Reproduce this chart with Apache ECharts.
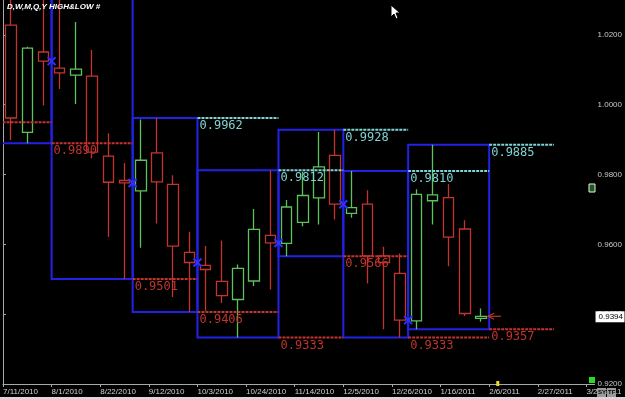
<!DOCTYPE html>
<html>
<head>
<meta charset="utf-8">
<title>D,W,M,Q,Y HIGH&amp;LOW</title>
<script src="https://cdn.jsdelivr.net/npm/echarts@6/dist/echarts.min.js"></script>
<style>
html, body { margin: 0; padding: 0; background: #000; }
#main { width: 625px; height: 399px; }
</style>
</head>
<body>
<div id="main"></div>
<script>
//周线数据, x = 从 7/11/2010 起的周序号
var opens  = [1.0228, 0.9921, 1.0151, 1.0105, 1.0085, 1.0082, 0.9853, 0.9783, 0.9753, 0.9862,
              0.9772, 0.9577, 0.9540, 0.9494, 0.9442, 0.9495, 0.9626, 0.9603, 0.9663, 0.9733,
              0.9855, 0.9689, 0.9715, 0.9567, 0.9517, 0.9381, 0.9725, 0.9734, 0.9644, 0.9388];
var closes = [0.9962, 1.0162, 1.0125, 1.0091, 1.0102, 0.9864, 0.9778, 0.9776, 0.9841, 0.9779,
              0.9595, 0.9548, 0.9528, 0.9453, 0.9531, 0.9643, 0.9604, 0.9707, 0.9740, 0.9822,
              0.9715, 0.9705, 0.9567, 0.9548, 0.9383, 0.9743, 0.9742, 0.9621, 0.9402, 0.9394];
var lows   = [0.9899, 0.9890, 0.9998, 1.0045, 1.0002, 0.9847, 0.9621, 0.9501, 0.9590, 0.9660,
              0.9449, 0.9406, 0.9409, 0.9432, 0.9333, 0.9481, 0.9471, 0.9566, 0.9652, 0.9657,
              0.9671, 0.9676, 0.9488, 0.9357, 0.9333, 0.9357, 0.9657, 0.9537, 0.9395, 0.9378];
var highs  = [1.0370, 1.0166, 1.0330, 1.0410, 1.0237, 1.0157, 0.9918, 0.9833, 0.9958, 0.9962,
              0.9798, 0.9636, 0.9595, 0.9610, 0.9542, 0.9701, 0.9812, 0.9727, 0.9808, 0.9922,
              0.9928, 0.9810, 0.9755, 0.9593, 0.9574, 0.9758, 0.9885, 0.9773, 0.9669, 0.9416];

//x轴标签, 每3周一个
var tickLabels = ['7/11/2010', '8/1/2010', '8/22/2010', '9/12/2010', '10/3/2010', '10/24/2010',
                  '11/14/2010', '12/5/2010', '12/26/2010', '1/16/2011', '2/6/2011', '2/27/2011', '3/20/2011'];

//月份: 起止周, 月高, 月低 (Jun..Feb)
var monthNames = ['Jun', 'Jul', 'Aug', 'Sep', 'Oct', 'Nov', 'Dec', 'Jan', 'Feb'];
var monthStart = [-6, -2, 3, 8, 12, 17, 21, 25, 30];
var monthEnd   = [-2, 3, 8, 12, 17, 21, 25, 30, 34];
var monthHigh  = [null, 1.0370, 1.0410, 0.9962, 0.9812, 0.9928, 0.9810, 0.9885, null];
var monthLow   = [0.9950, 0.9890, 0.9501, 0.9406, 0.9333, 0.9566, 0.9333, 0.9357, null];

var BLUE = '#2222e6';
var CYAN = '#7fd3d3';
var RED = '#c2342c';
var GREEN = '#5cc25c';

var chart = echarts.init(document.getElementById('main'));
var last = closes.length - 1;

//K线
var candleData = [];
for (var i = 0; i < closes.length; i++) {
    candleData.push([i + 0.5, opens[i], closes[i], lows[i], highs[i]]);
}

//月框
var boxData = [];
for (var m = 0; m < monthNames.length; m++) {
    if (monthHigh[m] != null && monthLow[m] != null) {
        boxData.push([monthStart[m], monthEnd[m], monthLow[m], monthHigh[m]]);
    }
}

//上月高低线 (青色=高, 红色=低)
var lineData = [];
var lineKind = [];
for (var m = 1; m < monthNames.length; m++) {
    if (monthHigh[m - 1] != null) {
        lineData.push([monthStart[m], monthEnd[m], monthHigh[m - 1]]);
        lineKind.push('high');
    }
    if (monthLow[m - 1] != null) {
        lineData.push([monthStart[m], monthEnd[m], monthLow[m - 1]]);
        lineKind.push('low');
    }
}

//月初标记 (上月收盘)
var crossData = [];
for (var m = 1; m < monthNames.length; m++) {
    if (monthStart[m] >= 1 && monthStart[m] <= last) {
        crossData.push([monthStart[m], closes[monthStart[m] - 1]]);
    }
}

function isTick(v, base, step) {
    var r = (v - base) / step;
    return Math.abs(r - Math.round(r)) < 1e-6;
}

var option = {
    backgroundColor: '#000',
    animation: false,
    title: {
        text: 'D,W,M,Q,Y HIGH&LOW #',
        left: 7,
        top: 3,
        padding: 0,
        textStyle: {
            color: '#fff',
            fontSize: 8,
            fontStyle: 'italic',
            fontWeight: 'bold',
            fontFamily: 'Liberation Sans'
        }
    },
    grid: { left: 3, right: 30, top: 0, bottom: 15 },
    xAxis: {
        type: 'value',
        min: 0,
        max: 36.5,
        interval: 3,
        axisLine: { lineStyle: { color: '#a8a8a8', width: 1 } },
        axisTick: { show: true, length: 3, lineStyle: { color: '#a8a8a8' } },
        splitLine: { show: false },
        axisLabel: {
            color: '#d0d0d0',
            fontSize: 8,
            fontFamily: 'Liberation Sans',
            align: 'left',
            margin: 4,
            showMaxLabel: false,
            formatter: function (v) {
                if (!isTick(v, 0, 3)) return '';
                return tickLabels[Math.round(v / 3)] || '';
            }
        }
    },
    yAxis: [
        {
            type: 'value',
            position: 'right',
            min: 0.92,
            max: 1.03,
            interval: 0.02,
            axisLine: { show: true, lineStyle: { color: '#a8a8a8' } },
            axisTick: { show: true, length: 3, lineStyle: { color: '#a8a8a8' } },
            splitLine: { show: false },
            axisLabel: {
                color: '#c8c8c8',
                fontSize: 8,
                fontFamily: 'Liberation Sans',
                margin: 3,
                showMaxLabel: false,
                formatter: function (v) {
                    if (!isTick(v, 0.92, 0.02)) return '';
                    return v.toFixed(4);
                }
            }
        },
        {
            type: 'value',
            position: 'left',
            min: 0.92,
            max: 1.03,
            axisLine: { show: true, lineStyle: { color: '#a8a8a8' } },
            axisTick: { show: false },
            axisLabel: { show: false },
            splitLine: { show: false }
        }
    ],
    series: [
        {
            type: 'custom',
            name: 'month box',
            clip: true,
            z: 1,
            data: boxData,
            encode: { x: [0, 1], y: [2, 3] },
            renderItem: function (params, api) {
                var p1 = api.coord([api.value(0), api.value(3)]);
                var p2 = api.coord([api.value(1), api.value(2)]);
                return {
                    type: 'rect',
                    shape: { x: p1[0], y: p1[1], width: p2[0] - p1[0], height: p2[1] - p1[1] },
                    style: { fill: 'none', stroke: BLUE, lineWidth: 2 }
                };
            }
        },
        {
            type: 'custom',
            name: 'prev high low',
            clip: true,
            z: 3,
            data: lineData,
            encode: { x: [0, 1], y: 2 },
            renderItem: function (params, api) {
                var x0 = api.value(0), x1 = api.value(1), v = api.value(2);
                var col = lineKind[params.dataIndex] === 'high' ? CYAN : RED;
                var p1 = api.coord([x0, v]);
                var p2 = api.coord([x1, v]);
                var children = [{
                    type: 'line',
                    shape: { x1: p1[0], y1: p1[1], x2: p2[0], y2: p2[1] },
                    style: { stroke: col, lineWidth: 2, lineDash: [3, 1] }
                }];
                if (x0 >= 0) {
                    children.push({
                        type: 'text',
                        style: {
                            text: v.toFixed(4),
                            x: p1[0] + 2,
                            y: p1[1] + 2,
                            fill: col,
                            font: '12px "DejaVu Sans Mono"',
                            align: 'left',
                            verticalAlign: 'top'
                        }
                    });
                }
                return { type: 'group', children: children };
            }
        },
        {
            type: 'candlestick',
            name: 'weekly',
            z: 2,
            barWidth: 11,
            data: candleData,
            encode: { x: 0, y: [1, 2, 3, 4] },
            itemStyle: {
                color: '#000',
                color0: '#000',
                borderColor: GREEN,
                borderColor0: RED,
                borderWidth: 1.3
            }
        },
        {
            type: 'custom',
            name: 'month open',
            clip: true,
            z: 4,
            data: crossData,
            encode: { x: 0, y: 1 },
            renderItem: function (params, api) {
                var p = api.coord([api.value(0), api.value(1)]);
                var d = 4;
                return {
                    type: 'group',
                    children: [
                        { type: 'line', shape: { x1: p[0] - d, y1: p[1] - d, x2: p[0] + d, y2: p[1] + d }, style: { stroke: '#3030ff', lineWidth: 2 } },
                        { type: 'line', shape: { x1: p[0] - d, y1: p[1] + d, x2: p[0] + d, y2: p[1] - d }, style: { stroke: '#3030ff', lineWidth: 2 } }
                    ]
                };
            }
        },
        {
            type: 'custom',
            name: 'current',
            clip: false,
            z: 6,
            zlevel: 1,
            data: [[last + 0.5, closes[last]]],
            encode: { x: 0, y: 1 },
            renderItem: function (params, api) {
                var p = api.coord([api.value(0), api.value(1)]);
                var axisP = api.coord([api.value(0) + 1, 0.92]);
                var edge = api.coord([36.5, api.value(1)]);
                var tip = p[0] + 7;
                return {
                    type: 'group',
                    children: [
                        { type: 'line', shape: { x1: tip, y1: p[1], x2: tip + 13, y2: p[1] }, style: { stroke: RED, lineWidth: 1.2 } },
                        { type: 'polyline', shape: { points: [[tip + 6, p[1] - 3], [tip, p[1]], [tip + 6, p[1] + 3]] }, style: { stroke: RED, fill: 'none', lineWidth: 1.2 } },
                        { type: 'rect', shape: { x: axisP[0] - 1, y: axisP[1] - 3, width: 3, height: 5 }, style: { fill: '#e8e020' } },
                        //当前价标签
                        { type: 'rect', shape: { x: edge[0] + 1, y: edge[1] - 5, width: 29, height: 11 }, style: { fill: '#fff' } },
                        {
                            type: 'text',
                            style: {
                                text: api.value(1).toFixed(4),
                                x: edge[0] + 4,
                                y: edge[1] + 0.5,
                                fill: '#000',
                                font: '8px "Liberation Sans"',
                                align: 'left',
                                verticalAlign: 'middle'
                            }
                        }
                    ]
                };
            }
        }
    ],
    graphic: [
        //鼠标指针
        {
            type: 'polygon',
            x: 391, y: 5,
            shape: { points: [[0, 0], [0, 12], [3, 9], [5, 14], [7, 13], [5, 8], [9, 8]] },
            style: { fill: '#fff', stroke: '#000', lineWidth: 1 },
            z: 10
        },
        //右侧小图标
        { type: 'rect', shape: { x: 589, y: 184, width: 6, height: 8 }, style: { fill: '#1a5a1a', stroke: '#eee', lineWidth: 1 }, z: 10 },
        { type: 'rect', shape: { x: 589, y: 377, width: 6, height: 6 }, style: { fill: '#22dd22' }, z: 10 },
        //SY / TF 按钮
        { type: 'rect', shape: { x: 597, y: 388, width: 9, height: 9 }, style: { fill: '#9a9a9a' }, z: 10 },
        { type: 'text', x: 598, y: 389, style: { text: 'SY', fill: '#000', font: 'bold 6px "Liberation Sans"' }, z: 11 },
        { type: 'rect', shape: { x: 607, y: 388, width: 9, height: 9 }, style: { fill: '#9a9a9a' }, z: 10 },
        { type: 'text', x: 608, y: 389, style: { text: 'TF', fill: '#000', font: 'bold 6px "Liberation Sans"' }, z: 11 },
        //底边
        { type: 'rect', shape: { x: 0, y: 397, width: 625, height: 2 }, style: { fill: '#d8d8d8' }, z: 10 }
    ]
};

chart.setOption(option);
window.addEventListener('resize', function () {
    chart.resize();
});
</script>
</body>
</html>
